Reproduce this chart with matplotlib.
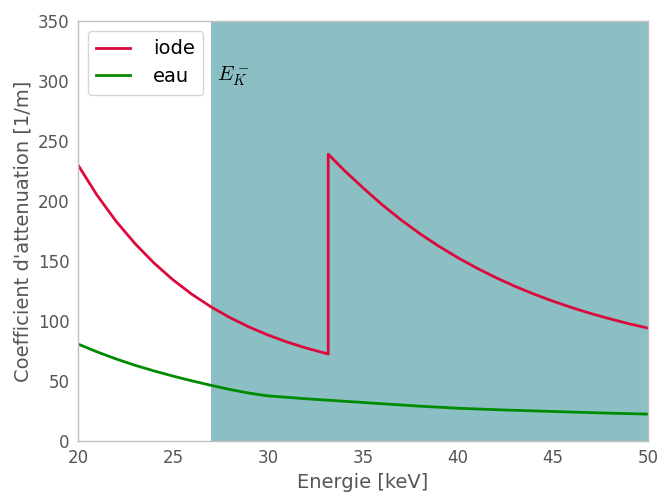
import matplotlib
matplotlib.use("Agg")
import matplotlib.pyplot as plt

plt.rcParams['mathtext.fontset'] = 'cm'

# Data
energie_iode = [20, 21, 22, 23, 24, 25, 26, 27, 28, 29, 30, 31, 32, 33, 33.17,
                33.17, 34, 35, 36, 37, 38, 39, 40, 41, 42, 43, 44, 45, 46, 47, 48, 49, 50]
mu_iode = [230, 204.9, 183.2, 164.5, 148.3, 134.3, 122.2, 111.8, 102.8, 95.0, 88.3, 82.5, 77.5, 73.2, 72.5,
           239, 225.7, 211, 197, 184.3, 172.7, 162.2, 152.7, 144.0, 136.1, 128.9, 122.4, 116.5,
           111.1, 106.2, 101.8, 97.7, 94.1]

energie_eau = [20, 21, 22, 23, 24, 25, 26, 27, 28, 29, 30, 32, 35, 38, 40, 42.5, 45, 47.5, 50]
mu_eau = [80.8, 74.3, 68.4, 63.1, 58.4, 54.1, 50.1, 46.4, 42.9, 39.9, 37.6, 35.2, 32.1, 29.0, 27.3,
          25.8, 24.6, 23.4, 22.4]

k_edge_start = 27.0
x_limits = [20, 50]
y_limits = [0, 350]
x_ticks = [20, 25, 30, 35, 40, 45, 50]
y_ticks = [0, 50, 100, 150, 200, 250, 300, 350]

fig = plt.figure(figsize=(6.63, 4.93), dpi=100)
ax = fig.add_axes([78/663, (493-441)/493, (648-78)/663, (441-21)/493])

ax.axvspan(k_edge_start, x_limits[1], color='#8bbfc3', lw=0, zorder=0)
ax.plot(energie_iode, mu_iode, color='#dc0a3c', lw=2, label='iode')
ax.plot(energie_eau, mu_eau, color='#008a00', lw=2, label='eau')

ax.text(27.3, 303.5, r'$E_K^-$', fontsize=15, va='center', ha='left')

ax.set_xlim(x_limits)
ax.set_ylim(y_limits)
ax.set_xticks(x_ticks)
ax.set_yticks(y_ticks)
ax.tick_params(length=0, labelsize=12, labelcolor='#555555', pad=6)
for s in ax.spines.values():
    s.set_color('#bfbfbf')
    s.set_linewidth(1)
ax.set_xlabel('Energie [keV]', fontsize=14, color='#555555')
ax.set_ylabel("Coefficient d'attenuation [1/m]", fontsize=14, color='#555555')

leg = ax.legend(loc='upper left', fontsize=14, frameon=True, fancybox=True,
                edgecolor='#cccccc', borderpad=0.45, handlelength=1.7,
                handletextpad=1.2, labelspacing=0.45)
leg.get_frame().set_linewidth(1)

fig.savefig('out.png', dpi=100)
